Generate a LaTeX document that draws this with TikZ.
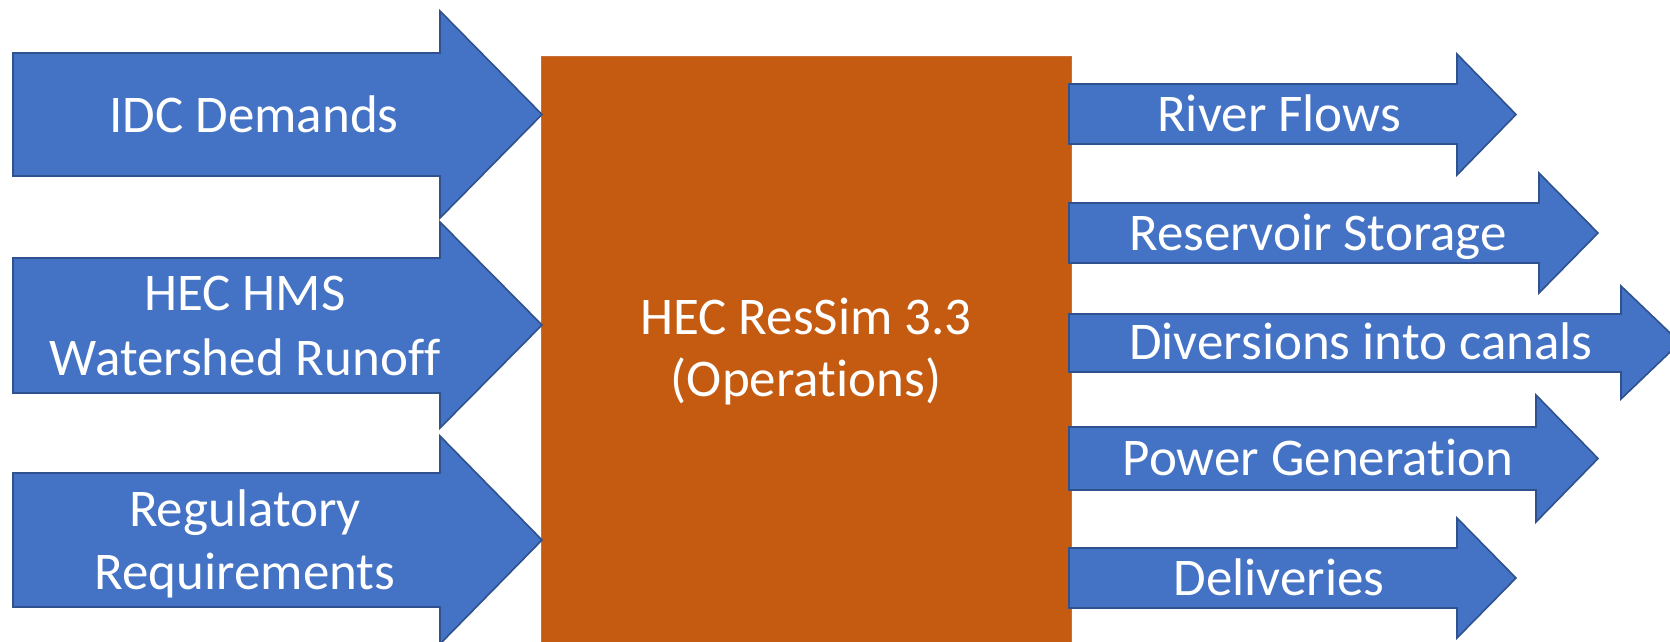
\documentclass[tikz,border=0pt]{standalone}
\usepackage{fontspec}
\setmainfont{Carlito}[Ligatures={NoCommon},RawFeature={-liga;-clig}]
\definecolor{arrowblue}{HTML}{4472C4}
\definecolor{arrowedge}{HTML}{2F528F}
\definecolor{boxorange}{HTML}{C55A11}
\definecolor{boxedge}{HTML}{C8703A}
\newcommand{\blockarrow}[7]{%
  \draw[arrowshape] (#1,#2) -- (#4,#2) -- (#4,#5) -- (#7,{(#5+#6)/2}) -- (#4,#6) -- (#4,#3) -- (#1,#3) -- cycle;}
\begin{document}
\begin{tikzpicture}[x=1pt,y=-1pt,
  arrowshape/.style={fill=arrowblue,draw=arrowedge,line width=1.6pt,line join=miter},
  mainbox/.style={fill=boxorange,draw=boxedge,line width=0.8pt},
  lbl/.style={text=white,font=\fontsize{53}{64}\selectfont,align=center,inner sep=0pt,anchor=base}]
\useasboundingbox (0,0) rectangle (1670,641);
\clip (0,0) rectangle (1670,641);
% central box
\draw[mainbox] (541,56) rectangle (1071,660);
% input arrows
\blockarrow{13}{53}{176}{440}{11}{218}{542}
\blockarrow{13}{258}{393}{440}{222}{428}{542}
\blockarrow{13}{473}{607}{440}{436}{644}{542}
% output arrows
\blockarrow{1069}{84}{144}{1457}{54}{175}{1516}
\blockarrow{1069}{203}{263}{1539}{173}{293}{1598}
\blockarrow{1069}{314}{372}{1621}{286}{399}{1680}
\blockarrow{1069}{427}{490}{1536}{395}{522}{1598}
\blockarrow{1069}{548}{608}{1457}{518}{638}{1516}
% labels
\node[lbl] (idc) at (254,132) {IDC Demands};
\node[lbl] (hms1) at (245,310) {HEC HMS};
\node[lbl] (hms2) at (245,375) {Watershed Runoff};
\node[lbl] (reg1) at (245,526) {Regulatory};
\node[lbl] (reg2) at (245,589) {Requirements};
\node[lbl] (res1) at (806,334) {HEC ResSim 3.3};
\node[lbl] (res2) at (806,396) {(Operations)};
\node[lbl] (river) at (1279,131) {River Flows};
\node[lbl] (stor) at (1318,250) {Reservoir Storage};
\node[lbl] (div) at (1361,359) {Diversions into canals};
\node[lbl] (pow) at (1318,475) {Power Generation};
\node[lbl] (del) at (1279,595) {Deliveries};
\end{tikzpicture}
\end{document}
